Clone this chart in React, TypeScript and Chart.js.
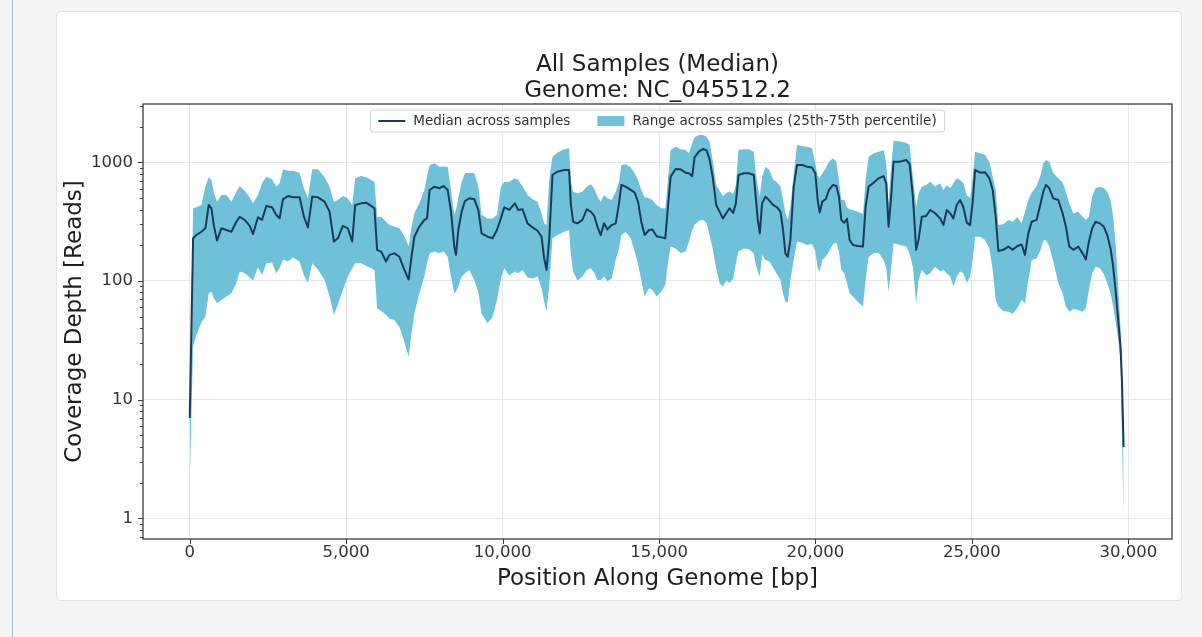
import React, { useEffect, useRef } from "react";
import { Chart, registerables } from "chart.js";

Chart.register(...registerables);

const TITLE_LINES = ["All Samples (Median)", "Genome: NC_045512.2"];
const X_LABEL = "Position Along Genome [bp]";
const Y_LABEL = "Coverage Depth [Reads]";
const LABEL_MEDIAN = "Median across samples";
const LABEL_RANGE = "Range across samples (25th-75th percentile)";

const X_TICKS = [0, 5000, 10000, 15000, 20000, 25000, 30000];
const Y_MAJOR_TICKS = [1, 10, 100, 1000];
const Y_MINOR_TICKS = [0.7, 0.8, 0.9, 2, 3, 4, 5, 6, 7, 8, 9, 20, 30, 40, 50, 60, 70, 80, 90, 200, 300, 400, 500, 600, 700, 800, 900, 2000, 3000];

const POSITIONS = [
  0, 106, 212, 372, 500, 606, 691, 776, 872, 1010,
  1170, 1330, 1489, 1596, 1755, 1915, 2021, 2181, 2308, 2447,
  2628, 2766, 2872, 2979, 3138, 3298, 3511, 3649, 3777, 3915,
  4096, 4309, 4468, 4607, 4734, 4894, 5054, 5192, 5288, 5479,
  5639, 5798, 5905, 5988, 6116, 6275, 6382, 6541, 6701, 6839,
  6935, 6999, 7073, 7180, 7339, 7499, 7584, 7669, 7818, 7978,
  8116, 8244, 8350, 8456, 8510, 8584, 8691, 8797, 8935, 9095,
  9223, 9329, 9521, 9680, 9819, 9946, 10053, 10212, 10393, 10499,
  10638, 10797, 10957, 11117, 11244, 11329, 11404, 11489, 11595, 11755,
  11968, 12126, 12179, 12253, 12392, 12551, 12689, 12817, 12924, 13030,
  13136, 13243, 13349, 13487, 13615, 13722, 13796, 13934, 14094, 14222,
  14328, 14434, 14541, 14679, 14786, 14924, 15073, 15201, 15286, 15371,
  15531, 15690, 15850, 15956, 16062, 16137, 16275, 16413, 16520, 16616,
  16722, 16828, 16935, 17041, 17148, 17254, 17371, 17456, 17541, 17711,
  17871, 18029, 18082, 18157, 18221, 18295, 18401, 18529, 18646, 18774,
  18880, 18965, 19040, 19114, 19199, 19306, 19412, 19572, 19731, 19891,
  19997, 20072, 20136, 20221, 20327, 20434, 20561, 20668, 20753, 20827,
  20923, 21008, 21093, 21200, 21349, 21519, 21604, 21700, 21860, 22019,
  22179, 22264, 22338, 22413, 22498, 22711, 22902, 23009, 23115, 23221,
  23296, 23402, 23540, 23668, 23828, 23987, 24092, 24198, 24305, 24411,
  24518, 24624, 24730, 24837, 24943, 25028, 25103, 25262, 25422, 25560,
  25667, 25762, 25848, 26007, 26167, 26305, 26454, 26592, 26699, 26805,
  26912, 27071, 27199, 27284, 27369, 27476, 27603, 27763, 27901, 28007,
  28114, 28242, 28401, 28540, 28645, 28741, 28848, 28954, 29093, 29220,
  29327, 29433, 29518, 29603, 29678, 29752, 29800, 29850,
];

const Q75 = [
  8, 410, 418, 437, 624, 748, 710, 548, 466, 530,
  530, 466, 566, 632, 577, 507, 451, 530, 665, 757,
  719, 624, 665, 873, 851, 851, 818, 604, 497, 873,
  873, 748, 624, 466, 481, 520, 497, 437, 733, 767,
  748, 710, 687, 348, 348, 316, 296, 287, 278, 244,
  215, 195, 269, 372, 451, 585, 757, 950, 981, 919,
  919, 919, 585, 360, 397, 497, 687, 808, 818, 808,
  624, 360, 337, 337, 360, 624, 687, 687, 733, 710,
  624, 530, 488, 466, 372, 306, 296, 710, 1116, 1207,
  1287, 1312, 710, 566, 548, 566, 624, 654, 604, 514,
  466, 530, 497, 481, 566, 687, 950, 965, 907, 808,
  710, 585, 507, 497, 481, 437, 410, 410, 710, 1270,
  1355, 1287, 1270, 1191, 1446, 1625, 1700, 1700, 1646, 1494,
  1013, 644, 577, 520, 548, 566, 541, 644, 1270, 1287,
  1287, 1230, 862, 624, 514, 757, 919, 862, 719, 676,
  624, 481, 372, 327, 423, 808, 1400, 1373, 1355, 1312,
  981, 765, 733, 808, 890, 1013, 1081, 1013, 700, 481,
  481, 418, 402, 397, 384, 367, 710, 1116, 1191, 1230,
  1270, 981, 451, 862, 1523, 1494, 1465, 1400, 757, 423,
  548, 624, 644, 687, 624, 665, 585, 644, 604, 665,
  733, 710, 665, 530, 497, 757, 1230, 1191, 1153, 1013,
  757, 585, 296, 301, 327, 316, 344, 306, 384, 481,
  555, 632, 782, 981, 1046, 1013, 808, 733, 676, 566,
  451, 372, 384, 348, 327, 348, 514, 604, 624, 604,
  566, 481, 348, 195, 90, 41, 20, 4.5,
];

const MEDIAN = [
  7, 229, 244, 260, 278, 437, 410, 287, 219, 278,
  269, 260, 316, 348, 327, 291, 249, 344, 327, 429,
  418, 360, 337, 488, 520, 507, 507, 348, 283, 514,
  507, 466, 384, 215, 229, 291, 278, 215, 437, 451,
  457, 429, 410, 183, 177, 146, 166, 171, 160, 128,
  112, 103, 150, 236, 287, 327, 337, 585, 624, 604,
  632, 585, 384, 195, 166, 269, 384, 472, 497, 488,
  397, 252, 236, 229, 269, 337, 418, 397, 451, 397,
  402, 306, 283, 265, 236, 155, 124, 222, 782, 834,
  862, 862, 451, 316, 306, 327, 402, 384, 356, 287,
  244, 306, 272, 296, 306, 451, 644, 624, 585, 555,
  466, 316, 244, 269, 272, 238, 233, 229, 423, 757,
  879, 873, 818, 808, 765, 1100, 1230, 1300, 1260, 1060,
  733, 437, 384, 337, 372, 410, 375, 451, 782, 808,
  808, 782, 548, 327, 252, 451, 514, 476, 437, 418,
  384, 269, 171, 160, 222, 624, 950, 950, 919, 903,
  808, 481, 378, 466, 488, 585, 644, 632, 514, 327,
  310, 335, 222, 201, 197, 195, 423, 624, 673, 733,
  765, 665, 287, 481, 1013, 1013, 1046, 975, 514, 183,
  222, 348, 353, 397, 372, 337, 296, 397, 372, 337,
  437, 481, 418, 310, 296, 466, 862, 818, 823, 733,
  585, 348, 179, 183, 195, 183, 197, 203, 166, 252,
  316, 327, 451, 566, 644, 604, 497, 481, 372, 287,
  195, 183, 195, 171, 152, 215, 278, 316, 306, 287,
  244, 188, 132, 79, 47, 28, 14, 4,
];

const Q25 = [
  2, 28, 35, 45, 50, 79, 81, 71, 65, 69,
  74, 79, 96, 120, 116, 107, 101, 130, 112, 141,
  143, 116, 128, 152, 146, 158, 146, 112, 96, 141,
  125, 102, 74, 52, 63, 84, 109, 128, 141, 141,
  134, 128, 124, 59, 56, 52, 48, 47, 41, 32,
  26, 23, 34, 53, 79, 109, 141, 171, 177, 171,
  177, 160, 109, 79, 81, 90, 109, 116, 124, 102,
  81, 53, 44, 50, 69, 105, 128, 112, 120, 116,
  124, 107, 105, 109, 87, 67, 55, 90, 229, 244,
  260, 269, 171, 120, 101, 109, 124, 128, 118, 102,
  102, 109, 99, 105, 150, 188, 244, 260, 229, 177,
  139, 102, 74, 87, 84, 74, 81, 93, 141, 195,
  188, 171, 177, 215, 269, 296, 322, 327, 306, 244,
  183, 128, 96, 90, 101, 96, 105, 141, 177, 188,
  185, 171, 141, 120, 109, 166, 150, 146, 130, 114,
  102, 79, 67, 66, 102, 150, 215, 210, 201, 205,
  177, 128, 120, 150, 160, 177, 205, 210, 177, 124,
  116, 96, 79, 74, 67, 61, 102, 160, 171, 173,
  150, 128, 81, 124, 208, 201, 195, 171, 132, 65,
  102, 124, 112, 116, 132, 120, 124, 116, 109, 90,
  109, 120, 116, 96, 109, 150, 236, 236, 222, 188,
  124, 69, 61, 56, 55, 53, 59, 69, 65, 102,
  150, 155, 183, 219, 222, 195, 146, 96, 79, 61,
  55, 58, 57, 55, 59, 84, 116, 132, 128, 114,
  96, 79, 61, 44, 32, 22, 5, 0.95,
];

const BAND_COLOR = "#6fc0d9";
const LINE_COLOR = "#1b3a57";
const FONT = '"DejaVu Sans", "Liberation Sans", sans-serif';
const CANVAS_W = 1126;
const CANVAS_H = 590;

const decorPlugin = {
  id: "decor",
  afterDatasetsDraw(chart: any) {
    const { ctx, chartArea: a, scales } = chart;
    ctx.save();
    ctx.strokeStyle = "#3a3a3a";
    ctx.lineWidth = 1.3;
    ctx.strokeRect(a.left, a.top, a.right - a.left, a.bottom - a.top);
    ctx.lineWidth = 1;
    ctx.strokeStyle = "#3a3a3a";
    const ys = scales.y;
    const drawY = (v: number, len: number) => {
      const py = Math.round(ys.getPixelForValue(v)) + 0.5;
      if (py < a.top || py > a.bottom) return;
      ctx.beginPath();
      ctx.moveTo(a.left - len, py);
      ctx.lineTo(a.left, py);
      ctx.stroke();
    };
    Y_MAJOR_TICKS.forEach((v) => drawY(v, 5));
    Y_MINOR_TICKS.forEach((v) => drawY(v, 3));
    const xs = scales.x;
    X_TICKS.forEach((v) => {
      const px = Math.round(xs.getPixelForValue(v)) + 0.5;
      ctx.beginPath();
      ctx.moveTo(px, a.bottom);
      ctx.lineTo(px, a.bottom + 5);
      ctx.stroke();
    });
    ctx.restore();
  },
  afterDraw(chart: any) {
    const { ctx, chartArea: a } = chart;
    const cx = (a.left + a.right) / 2;
    ctx.save();
    // title
    ctx.font = `23px ${FONT}`;
    ctx.fillStyle = "#1e1e1e";
    ctx.textAlign = "center";
    ctx.textBaseline = "alphabetic";
    ctx.fillText(TITLE_LINES[0], cx, 60);
    ctx.fillText(TITLE_LINES[1], cx, 86);

    // legend
    const fs = 13.5;
    ctx.font = `${fs}px ${FONT}`;
    const ds = chart.data.datasets;
    const items = [
      { label: ds[0].label, kind: "line", color: ds[0].borderColor },
      { label: ds[2].label, kind: "patch", color: ds[2].backgroundColor },
    ];
    const pad = 8, handle = 27, gap = 8, colSp = 27, h = 22;
    const widths = items.map((it) => ctx.measureText(it.label).width);
    const total = pad * 2 + widths.reduce((s, w) => s + handle + gap + w, 0) + colSp * (items.length - 1);
    const x0 = cx - total / 2;
    const top = a.top + 6;
    ctx.beginPath();
    const r = 3;
    ctx.moveTo(x0 + r, top);
    ctx.lineTo(x0 + total - r, top);
    ctx.quadraticCurveTo(x0 + total, top, x0 + total, top + r);
    ctx.lineTo(x0 + total, top + h - r);
    ctx.quadraticCurveTo(x0 + total, top + h, x0 + total - r, top + h);
    ctx.lineTo(x0 + r, top + h);
    ctx.quadraticCurveTo(x0, top + h, x0, top + h - r);
    ctx.lineTo(x0, top + r);
    ctx.quadraticCurveTo(x0, top, x0 + r, top);
    ctx.closePath();
    ctx.fillStyle = "rgba(255,255,255,0.85)";
    ctx.fill();
    ctx.strokeStyle = "#d4d4d4";
    ctx.lineWidth = 1;
    ctx.stroke();
    let x = x0 + pad;
    const cy = top + h / 2;
    items.forEach((it, i) => {
      if (it.kind === "line") {
        ctx.strokeStyle = it.color;
        ctx.lineWidth = 2;
        ctx.beginPath();
        ctx.moveTo(x, cy);
        ctx.lineTo(x + handle, cy);
        ctx.stroke();
      } else {
        ctx.fillStyle = it.color;
        ctx.fillRect(x, cy - 5, handle, 10);
      }
      x += handle + gap;
      ctx.fillStyle = "#333";
      ctx.textAlign = "left";
      ctx.textBaseline = "middle";
      ctx.fillText(it.label, x, cy);
      x += widths[i] + colSp;
    });
    ctx.restore();
  },
};

export default function App() {
  const ref = useRef<HTMLCanvasElement>(null);

  useEffect(() => {
    if (!ref.current) return;
    Chart.defaults.font.family = FONT;
    const pts = (arr: number[]) => POSITIONS.map((x, i) => ({ x, y: arr[i] }));
    const chart = new Chart(ref.current, {
      type: "line",
      data: {
        datasets: [
          {
            label: LABEL_MEDIAN,
            data: pts(MEDIAN),
            borderColor: LINE_COLOR,
            borderWidth: 2,
            pointRadius: 0,
            fill: false,
            tension: 0,
            borderJoinStyle: "round",
          },
          {
            label: "",
            data: pts(Q25),
            borderColor: "rgba(0,0,0,0)",
            borderWidth: 0,
            pointRadius: 0,
            fill: false,
            tension: 0,
          },
          {
            label: LABEL_RANGE,
            data: pts(Q75),
            borderColor: "rgba(0,0,0,0)",
            backgroundColor: BAND_COLOR,
            borderWidth: 0,
            pointRadius: 0,
            fill: 1,
            tension: 0,
          },
        ],
      } as any,
      options: {
        animation: false,
        responsive: false,
        events: [],
        layout: { padding: { top: 93, right: 10, bottom: 0, left: 0 } },
        plugins: {
          legend: { display: false },
          tooltip: { enabled: false },
          title: { display: false },
        },
        scales: {
          x: {
            type: "linear",
            min: -1495,
            max: 31398,
            afterBuildTicks: (s: any) => {
              s.ticks = X_TICKS.map((v) => ({ value: v }));
            },
            afterFit: (s: any) => {
              s.height = 62;
            },
            ticks: {
              autoSkip: false,
              maxRotation: 0,
              padding: 4,
              color: "#333",
              font: { family: FONT, size: 16.5 },
              callback: (v: any) => Number(v).toLocaleString("en-US"),
            },
            grid: { color: "#e8e8e8", lineWidth: 1, drawTicks: false },
            border: { display: false },
            title: {
              display: true,
              text: X_LABEL,
              color: "#1e1e1e",
              font: { family: FONT, size: 23 },
              padding: { top: 0, bottom: 8 },
            },
          },
          y: {
            type: "logarithmic",
            min: 0.67,
            max: 3100,
            afterBuildTicks: (s: any) => {
              s.ticks = [...Y_MINOR_TICKS, ...Y_MAJOR_TICKS]
                .sort((a, b) => a - b)
                .map((v) => ({ value: v }));
            },
            afterFit: (s: any) => {
              s.width = 87;
            },
            ticks: {
              autoSkip: false,
              padding: 10,
              color: "#333",
              font: { family: FONT, size: 16.5 },
              callback: (v: any) => (Y_MAJOR_TICKS.includes(Number(v)) ? String(v) : ""),
            },
            grid: {
              drawTicks: false,
              lineWidth: 1,
              color: (c: any) =>
                c.tick && Y_MAJOR_TICKS.includes(c.tick.value) ? "#e8e8e8" : "rgba(0,0,0,0)",
            },
            border: { display: false },
            title: {
              display: true,
              text: Y_LABEL,
              color: "#1e1e1e",
              font: { family: FONT, size: 23 },
              padding: { top: 5, bottom: 0 },
            },
          },
        },
      } as any,
      plugins: [decorPlugin],
    });
    return () => chart.destroy();
  }, []);

  return (
    <div style={{ position: "fixed", left: 0, top: 0, width: 1202, height: 637, background: "#f5f5f5", overflow: "hidden" }}>
      <div style={{ position: "absolute", left: 12, top: 0, width: 1, height: 637, background: "#a9bccd" }} />
      <div
        style={{
          position: "absolute",
          left: 56,
          top: 11,
          width: CANVAS_W,
          height: CANVAS_H,
          background: "#ffffff",
          border: "1px solid #e3e3e3",
          borderRadius: 4,
          boxSizing: "border-box",
        }}
      />
      <canvas
        ref={ref}
        width={CANVAS_W}
        height={CANVAS_H}
        style={{ position: "absolute", left: 56, top: 11, width: CANVAS_W, height: CANVAS_H }}
      />
    </div>
  );
}
